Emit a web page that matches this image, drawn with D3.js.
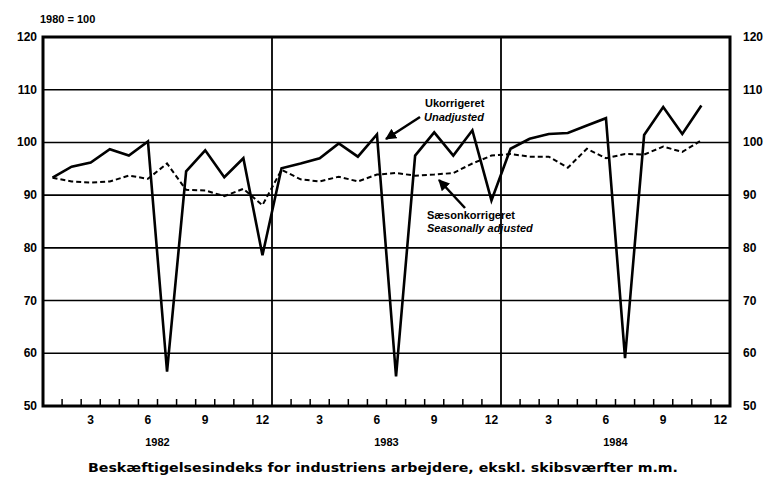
<!DOCTYPE html>
<html>
<head>
<meta charset="utf-8">
<script src="https://cdn.jsdelivr.net/npm/d3@7"></script>
<style>
  body { margin: 0; background: #fff; }
  text { font-family: "Liberation Sans", Arial, sans-serif; fill: #000; }
</style>
</head>
<body>
<svg width="766" height="477"></svg>
<script>
// monthly index, 1980 = 100, Jan 1982 .. Nov 1984
const years = ["1982", "1983", "1984"];
const monthLabels = [3, 6, 9, 12];
const yTicks = [50, 60, 70, 80, 90, 100, 110, 120];

const unadjusted = [
  93.3, 95.4, 96.2, 98.7, 97.5, 100.2, 56.5, 94.5, 98.5, 93.4, 97.0, 78.6,
  95.1, 96.0, 97.0, 99.8, 97.3, 101.5, 55.6, 97.5, 101.9, 97.5, 102.3, 89.0,
  98.8, 100.7, 101.6, 101.8, 103.2, 104.6, 59.1, 101.4, 106.7, 101.6, 107.0
];
const adjusted = [
  93.3, 92.6, 92.4, 92.6, 93.7, 93.1, 96.0, 91.0, 90.9, 89.8, 91.2, 88.1,
  94.8, 93.0, 92.6, 93.5, 92.6, 93.9, 94.2, 93.7, 93.9, 94.2, 96.0, 97.5,
  97.8, 97.3, 97.3, 95.2, 98.8, 97.0, 97.8, 97.7, 99.2, 98.2, 100.4
];

const svg = d3.select("svg");

// plot box
const plotLeft = 43, plotRight = 730, plotTop = 37, plotBottom = 406;
const nMonths = years.length * 12;

const x = d3.scaleLinear()
  .domain([0, nMonths])
  .range([plotLeft, plotRight]);

const y = d3.scaleLinear()
  .domain([50, 120])
  .range([plotBottom, plotTop]);

// horizontal gridlines
svg.append("g")
  .selectAll("line")
  .data(yTicks.filter(v => v > 50 && v < 120))
  .enter().append("line")
  .attr("x1", plotLeft).attr("x2", plotRight)
  .attr("y1", d => y(d)).attr("y2", d => y(d))
  .attr("stroke", "#000")
  .attr("stroke-width", 1.6);

// year dividers
svg.append("g")
  .selectAll("line")
  .data(d3.range(1, years.length))
  .enter().append("line")
  .attr("x1", d => x(d * 12)).attr("x2", d => x(d * 12))
  .attr("y1", plotTop).attr("y2", plotBottom)
  .attr("stroke", "#000")
  .attr("stroke-width", 1.8);

// month ticks along the bottom
svg.append("g")
  .selectAll("line")
  .data(d3.range(1, nMonths).filter(m => m % 12 !== 0))
  .enter().append("line")
  .attr("x1", d => x(d)).attr("x2", d => x(d))
  .attr("y1", plotBottom).attr("y2", plotBottom - 7)
  .attr("stroke", "#000")
  .attr("stroke-width", 1.5);

// frame
svg.append("rect")
  .attr("x", plotLeft).attr("y", plotTop)
  .attr("width", plotRight - plotLeft).attr("height", plotBottom - plotTop)
  .attr("fill", "none")
  .attr("stroke", "#000")
  .attr("stroke-width", 3);

// y labels both sides
const yLab = svg.append("g")
  .attr("font-size", "12px")
  .attr("font-weight", "bold");

yLab.selectAll(".yl")
  .data(yTicks).enter().append("text")
  .attr("class", "yl")
  .attr("x", 37)
  .attr("y", d => y(d) + 4)
  .attr("text-anchor", "end")
  .text(d => d);

yLab.selectAll(".yr")
  .data(yTicks).enter().append("text")
  .attr("class", "yr")
  .attr("x", 743)
  .attr("y", d => y(d) + 4)
  .attr("text-anchor", "start")
  .text(d => d);

svg.append("text")
  .attr("x", 40).attr("y", 23)
  .attr("font-size", "11px")
  .attr("font-weight", "bold")
  .text("1980 = 100");

// month labels and years
const mx = (yi, m) => x(yi * 12 + m - 0.5);
svg.append("g")
  .attr("font-size", "12px")
  .attr("font-weight", "bold")
  .selectAll("text")
  .data(years.flatMap((yr, yi) => monthLabels.map(m => ({ yi, m }))))
  .enter().append("text")
  .attr("x", d => mx(d.yi, d.m))
  .attr("y", 424)
  .attr("text-anchor", "middle")
  .text(d => d.m);

svg.append("g")
  .attr("font-size", "11px")
  .attr("font-weight", "bold")
  .selectAll("text")
  .data(years)
  .enter().append("text")
  .attr("x", (d, i) => x(i * 12 + 6))
  .attr("y", 446)
  .attr("text-anchor", "middle")
  .text(d => d);

// series
const line = d3.line()
  .x((d, i) => x(i + 0.5))
  .y(d => y(d));

svg.append("path")
  .attr("d", line(adjusted))
  .attr("fill", "none")
  .attr("stroke", "#000")
  .attr("stroke-width", 2)
  .attr("stroke-dasharray", "5,3");

svg.append("path")
  .attr("d", line(unadjusted))
  .attr("fill", "none")
  .attr("stroke", "#000")
  .attr("stroke-width", 2.6)
  .attr("stroke-linejoin", "miter");

// annotations
svg.append("defs").append("marker")
  .attr("id", "arrow")
  .attr("viewBox", "0 0 10 10")
  .attr("refX", 9).attr("refY", 5)
  .attr("markerWidth", 4.5).attr("markerHeight", 4.5)
  .attr("orient", "auto")
  .append("path")
  .attr("d", "M0,0L10,5L0,10z")
  .attr("fill", "#000");

const notes = svg.append("g").attr("font-size", "11px").attr("font-weight", "bold");
notes.append("text").attr("x", 425).attr("y", 107).text("Ukorrigeret");
notes.append("text").attr("x", 424).attr("y", 121).attr("font-style", "italic").text("Unadjusted");
notes.append("text").attr("x", 427).attr("y", 219).text("Sæsonkorrigeret");
notes.append("text").attr("x", 427).attr("y", 232).attr("font-style", "italic").text("Seasonally adjusted");

svg.append("line")
  .attr("x1", 420).attr("y1", 117).attr("x2", 386).attr("y2", 139)
  .attr("stroke", "#000").attr("stroke-width", 2.5)
  .attr("marker-end", "url(#arrow)");
svg.append("line")
  .attr("x1", 465).attr("y1", 208).attr("x2", 439).attr("y2", 180)
  .attr("stroke", "#000").attr("stroke-width", 2.5)
  .attr("marker-end", "url(#arrow)");

// bottom title
svg.append("text")
  .attr("x", 383).attr("y", 472)
  .attr("text-anchor", "middle")
  .style("font-family", "'DejaVu Sans', sans-serif")
  .attr("font-size", "13px")
  .attr("font-weight", "bold")
  .attr("textLength", 590)
  .attr("lengthAdjust", "spacingAndGlyphs")
  .text("Beskæftigelsesindeks for industriens arbejdere, ekskl. skibsværfter m.m.");
</script>
</body>
</html>
